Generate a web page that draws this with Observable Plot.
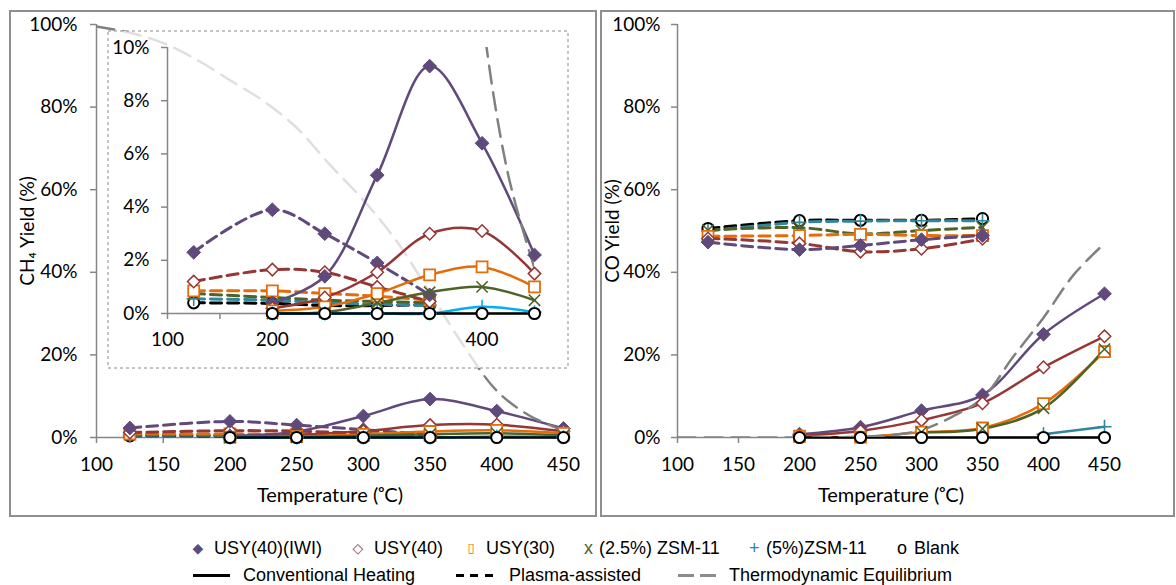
<!DOCTYPE html>
<html>
<head>
<meta charset="utf-8">
<script src="https://cdn.jsdelivr.net/npm/d3@7"></script>
<script src="https://cdn.jsdelivr.net/npm/@observablehq/plot@0.6"></script>
<style>
  html, body { margin: 0; padding: 0; background: #fff; }
  #page { position: relative; width: 1176px; height: 585px; overflow: hidden; }
  .box { position: absolute; box-sizing: border-box; border: 2px solid #8f8f8f; }
  .chart { position: absolute; }
  .lg { position: absolute; font-family: "Liberation Sans", Arial, sans-serif; font-size: 18px; line-height: 18px; color: #000; white-space: nowrap; }
  .mk { position: absolute; transform: translateX(-50%); font-family: "DejaVu Sans", sans-serif; line-height: 18px; white-space: nowrap; }
  .sw { position: absolute; height: 3px; }
</style>
</head>
<body>
<div id="page">
  <div class="box" style="left:9px;top:10px;width:588px;height:507px"></div>
  <div class="box" style="left:600px;top:10px;width:575px;height:507px"></div>
  <div id="ch4" class="chart" style="left:10px;top:10px"></div>
  <div id="inset" class="chart" style="left:107px;top:30px"></div>
  <div id="co" class="chart" style="left:601px;top:10px"></div>

  <!-- legend: catalysts -->
  <span class="mk" style="left:198px;top:539px;font-size:14px;color:#604A7B">◆</span>
  <span class="lg" style="left:214px;top:539px">USY(40)(IWI)</span>
  <span class="mk" style="left:358px;top:539px;font-size:14px;color:#953735">◇</span>
  <span class="lg" style="left:374px;top:539px">USY(40)</span>
  <span class="mk" style="left:471px;top:539px;font-size:13px;color:#E46C0A">▯</span>
  <span class="lg" style="left:486px;top:539px">USY(30)</span>
  <span class="lg" style="left:584px;top:539px;color:#4F6228">x</span>
  <span class="lg" style="left:599px;top:539px">(2.5%) ZSM-11</span>
  <span class="lg" style="left:749px;top:539px;color:#31859C">+</span>
  <span class="lg" style="left:766px;top:539px">(5%)ZSM-11</span>
  <span class="lg" style="left:897px;top:539px">o</span>
  <span class="lg" style="left:914px;top:539px">Blank</span>

  <!-- legend: heating modes -->
  <div class="sw" style="left:193px;top:574px;width:37px;background:#000"></div>
  <span class="lg" style="left:243px;top:566px">Conventional Heating</span>
  <div class="sw" style="left:456px;top:574px;width:37px;background:repeating-linear-gradient(to right,#000 0 8px,transparent 8px 14.5px)"></div>
  <span class="lg" style="left:509px;top:566px">Plasma-assisted</span>
  <div class="sw" style="left:678px;top:574px;width:38px;background:repeating-linear-gradient(to right,#8c8c8c 0 16px,transparent 16px 22px)"></div>
  <span class="lg" style="left:729px;top:566px">Thermodynamic Equilibrium</span>
</div>
<script>
// Temperatures (°C)
const convTemps = [200, 250, 300, 350, 400, 450];
const plasmaTemps = [125, 200, 250, 300, 350];
const equilTemps = [100, 125, 150, 175, 200, 225, 250, 275, 300, 325, 350, 375, 400, 425, 450];

// Catalysts, in legend order
const seriesNames = ["USY(40)(IWI)", "USY(40)", "USY(30)", "(2.5%) ZSM-11", "(5%)ZSM-11", "Blank"];
const seriesColors = ["#604A7B", "#953735", "#E46C0A", "#4F6228", "#31859C", "#000000"];

// CH4 yield (%) — conventional heating
const ch4ConvIWI = [0.4, 1.4, 5.2, 9.3, 6.4, 2.2];
const ch4ConvUSY40 = [0.2, 0.6, 1.55, 3.0, 3.1, 1.5];
const ch4ConvUSY30 = [0.1, 0.25, 0.75, 1.45, 1.75, 1.0];
const ch4ConvZ25 = [0.0, 0.05, 0.4, 0.8, 1.0, 0.5];
const ch4ConvZ5 = [0.0, 0.0, 0.0, 0.0, 0.25, 0.05];
const ch4ConvBlank = [0, 0, 0, 0, 0, 0];

// CH4 yield (%) — plasma-assisted
const ch4PlasIWI = [2.3, 3.9, 3.0, 1.9, 0.7];
const ch4PlasUSY40 = [1.2, 1.65, 1.55, 1.0, 0.45];
const ch4PlasUSY30 = [0.85, 0.85, 0.75, 0.65, 0.5];
const ch4PlasZ25 = [0.75, 0.6, 0.5, 0.45, 0.4];
const ch4PlasZ5 = [0.55, 0.5, 0.4, 0.35, 0.3];
const ch4PlasBlank = [0.4, 0.38, 0.3, 0.3, 0.33];

// CO yield (%) — conventional heating
const coConvIWI = [0.8, 2.5, 6.5, 10.3, 25.0, 34.8];
const coConvUSY40 = [0.5, 1.6, 4.2, 8.3, 17.0, 24.5];
const coConvUSY30 = [0.3, 0.1, 1.3, 2.3, 8.2, 20.8];
const coConvZ25 = [null, null, 1.3, 2.1, 7.1, 21.4];
const coConvZ5 = [null, null, null, null, 0.8, 2.6];
const coConvBlank = [0, 0, 0, 0, 0, 0];

// CO yield (%) — plasma-assisted
const coPlasIWI = [47.3, 45.5, 46.5, 47.9, 48.9];
const coPlasUSY40 = [48.2, 47.0, 45.0, 45.7, 48.1];
const coPlasUSY30 = [48.7, 48.9, 49.2, 48.9, 48.9];
const coPlasZ25 = [50.2, 50.8, 49.3, 50.1, 50.9];
const coPlasZ5 = [50.0, 52.1, 52.4, 52.5, 52.5];
const coPlasBlank = [50.6, 52.5, 52.6, 52.6, 53.0];

// Thermodynamic equilibrium yields (%)
const ch4Equil = [99.5, 98, 95.5, 91.5, 86.5, 81.5, 75, 66, 57.5, 47.5, 35, 22.3, 11.3, 5.2, 1.7];
const coEquil = [0, 0, 0, 0, 0, 0.05, 0.2, 0.6, 1.8, 5, 9.5, 19.5, 29, 39.5, 47];

// Axis ticks
const mainXTicks = [100, 150, 200, 250, 300, 350, 400, 450];
const mainYTicks = [0, 20, 40, 60, 80, 100];
const insetXTicks = [100, 150, 200, 250, 300, 350, 400];
const insetYTicks = [0, 2, 4, 6, 8, 10];

const axisGray = "#868686";
const equilGray = "#808080";
const solidWidth = 2.5;
const plasmaDash = "11,6";
const equilDash = "18,9";

const points = (temps, vals) =>
  temps.map((t, i) => ({t, v: vals[i]})).filter((d) => d.v != null);

// Marker look for each catalyst (by legend index)
function markerStyle(i, color) {
  switch (i) {
    case 0: return {symbol: "diamond2", r: 6.2, fill: color, stroke: color, strokeWidth: 1};
    case 1: return {symbol: "diamond2", r: 5.6, fill: "white", stroke: color, strokeWidth: 1.5};
    case 2: return {symbol: "square", r: 6.2, fill: "white", stroke: color, strokeWidth: 1.8};
    case 3: return {symbol: "times", r: 5.2, fill: "none", stroke: color, strokeWidth: 1.6};
    case 4: return {symbol: "plus", r: 4.6, fill: "none", stroke: color, strokeWidth: 1.6};
    default: return {symbol: "circle", r: 5.6, fill: "white", stroke: "#000", strokeWidth: 2};
  }
}

// Lines and markers for one panel: plasma (dashed, drawn blank-first) and conventional (solid)
function seriesMarks(convVals, plasVals, equil, {convColors = seriesColors} = {}) {
  const conv = convVals.map((vals) => points(convTemps, vals));
  const plas = plasVals.map((vals) => points(plasmaTemps, vals));
  const plasOrder = plas.map((_, i) => i).reverse();
  const marks = [];
  plasOrder.forEach((i) => marks.push(Plot.line(plas[i], {
    x: "t", y: "v", stroke: seriesColors[i], strokeWidth: 3, strokeDasharray: plasmaDash, curve: "catmull-rom"
  })));
  conv.forEach((data, i) => marks.push(Plot.line(data, {
    x: "t", y: "v", stroke: convColors[i], strokeWidth: solidWidth, curve: "catmull-rom"
  })));
  marks.push(Plot.line(points(equilTemps, equil), {
    x: "t", y: "v", stroke: equilGray, strokeWidth: 2.5, strokeDasharray: equilDash,
    curve: "catmull-rom", clip: true
  }));
  plasOrder.forEach((i) => marks.push(Plot.dot(plas[i], {x: "t", y: "v", ...markerStyle(i, seriesColors[i])})));
  conv.forEach((data, i) => marks.push(Plot.dot(data, {x: "t", y: "v", ...markerStyle(i, convColors[i])})));
  return marks;
}

function axisMarks({xTicks, xFormat, yTicks, yFormat, xPad, yPad}) {
  return [
    Plot.ruleX([100], {stroke: axisGray, strokeWidth: 1.5}),
    Plot.ruleY([0], {stroke: axisGray, strokeWidth: 1.5}),
    Plot.axisX(xTicks, {tickSize: 6, tickPadding: xPad, stroke: axisGray, strokeWidth: 1.5, tickFormat: xFormat, label: null}),
    Plot.axisY(yTicks, {tickSize: 6, tickPadding: yPad, stroke: axisGray, strokeWidth: 1.5, tickFormat: yFormat, label: null})
  ];
}

// Axis titles: rotated y title centred on the frame, x title below the tick labels
function titleMarks(yTitle, yOffset) {
  return [
    Plot.text([yTitle], {text: (d) => d, frameAnchor: "left", textAnchor: "middle", dx: -yOffset, rotate: -90, fontSize: 19}),
    Plot.text(["Temperature (ᵒC)"], {text: (d) => d, frameAnchor: "bottom", textAnchor: "middle", dy: 64, fontSize: 20})
  ];
}

const chartStyle = {fontFamily: "Lato, sans-serif", fontSize: "19px", background: "transparent", overflow: "visible", color: "#000"};
const pct = (d) => d + "%";
const ch4ConvColors = ["#604A7B", "#953735", "#E46C0A", "#4F6228", "#00B0F0", "#000000"];

// Left panel: CH4 yield
document.getElementById("ch4").append(Plot.plot({
  width: 587, height: 506,
  marginLeft: 86, marginRight: 34, marginTop: 14, marginBottom: 79,
  style: chartStyle,
  x: {domain: [100, 450], label: null},
  y: {domain: [0, 100], label: null},
  marks: [
    ...axisMarks({xTicks: mainXTicks, xFormat: (d) => d, yTicks: mainYTicks, yFormat: pct, xPad: 14, yPad: 13}),
    ...titleMarks("CH₄ Yield (%)", 69),
    ...seriesMarks(
      [ch4ConvIWI, ch4ConvUSY40, ch4ConvUSY30, ch4ConvZ25, ch4ConvZ5, ch4ConvBlank],
      [ch4PlasIWI, ch4PlasUSY40, ch4PlasUSY30, ch4PlasZ25, ch4PlasZ5, ch4PlasBlank],
      ch4Equil,
      {convColors: ch4ConvColors}
    )
  ]
}));

// Inset: CH4 yield, 0–10 %
document.getElementById("inset").append(Plot.plot({
  width: 461, height: 338,
  marginLeft: 60, marginRight: 34, marginTop: 17, marginBottom: 55,
  style: chartStyle,
  x: {domain: [100, 450], label: null},
  y: {domain: [0, 10], label: null},
  marks: [
    Plot.frame({fill: "white", fillOpacity: 0.75, stroke: "#8a8a8a", strokeWidth: 1, strokeDasharray: "3,3",
      insetLeft: -59.5, insetRight: -33.5, insetTop: -16.5, insetBottom: -54.5}),
    ...axisMarks({xTicks: insetXTicks, xFormat: (d) => (d % 100 === 0 ? d : ""), yTicks: insetYTicks, yFormat: pct, xPad: 13, yPad: 12}),
    ...seriesMarks(
      [ch4ConvIWI, ch4ConvUSY40, ch4ConvUSY30, ch4ConvZ25, ch4ConvZ5, ch4ConvBlank],
      [ch4PlasIWI, ch4PlasUSY40, ch4PlasUSY30, ch4PlasZ25, ch4PlasZ5, ch4PlasBlank],
      ch4Equil,
      {convColors: ch4ConvColors}
    )
  ]
}));

// Right panel: CO yield
document.getElementById("co").append(Plot.plot({
  width: 574, height: 506,
  marginLeft: 76, marginRight: 71, marginTop: 14, marginBottom: 79,
  style: chartStyle,
  x: {domain: [100, 450], label: null},
  y: {domain: [0, 100], label: null},
  marks: [
    ...axisMarks({xTicks: mainXTicks, xFormat: (d) => d, yTicks: mainYTicks, yFormat: pct, xPad: 14, yPad: 11}),
    ...titleMarks("CO Yield (%)", 65),
    ...seriesMarks(
      [coConvIWI, coConvUSY40, coConvUSY30, coConvZ25, coConvZ5, coConvBlank],
      [coPlasIWI, coPlasUSY40, coPlasUSY30, coPlasZ25, coPlasZ5, coPlasBlank],
      coEquil
    )
  ]
}));
</script>
</body>
</html>
